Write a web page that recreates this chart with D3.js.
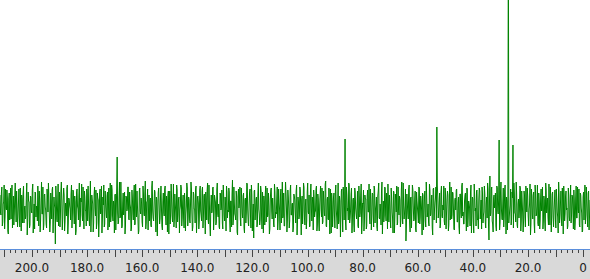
<!DOCTYPE html>
<html>
<head>
<meta charset="utf-8">
<script src="https://cdn.jsdelivr.net/npm/d3@7"></script>
<style>
  html, body { margin: 0; padding: 0; background: #fff; }
  svg { display: block; }
  .ticklabel { font-family: "DejaVu Sans", sans-serif; font-size: 12px; fill: #222; }
</style>
</head>
<body>
<div id="spectrum"></div>
<script>
// Spectrum sampling range (ppm), left to right
var ppmStart = 211.6, ppmEnd = -2.5;

// Baseline noise (arbitrary intensity units).
// Two sample sets, interleaved point by point.
var noiseA = [
  12,-8,20,-15,5,-22,18,-3,9,-27,14,2,-12,22,-6,-18,10,-1,16,-20,
  4,-11,19,-24,8,13,-16,1,-9,24,-14,6,-21,11,-4,17,-26,3,15,-10,
  -2,21,-19,7,-13,25,-7,-23,12,0,-17,18,-5,9,-25,14,-12,20,-8,2,
  -37,10,-15,23,-3,-20,16,6,-11,19,-24,4,-9,22,-16,8,-2,13,-21,17,
  -6,11,-28,15,1,-13,24,-18,5,-8,20,-22,10,-4,18,-14,3,-19,26,-10,
  7,-25,12,-1,17,-16,9,-30,14,-7,21,-12,2,-20,16,-5,11,-23,19,0,
  -15,22,-9,6,-26,13,-3,18,-17,8,-11,25,-21,4,-8,15,-19,10,-2,20,
  -13,3,-24,17,-6,12,-18,23,-10,1,-27,16,-4,9,-15,21,-7,14,-22,5,
  18,-3,-14,9,-20,26,-11,2,15,-25,7,-6,19,-17,11,-1,-23,14,-9,21,
  -18,6,12,-27,16,-5,8,-15,23,-12,3,-21,17,-8,10,-3,22,-19,5,-11,
  14,-24,1,19,-10,7,-16,25,-6,-20,13,-2,18,-26,9,4,-14,21,-9,16,
  -21,11,-5,15,-13,24,-17,2,-29,12,-4,20,-11,8,-18,17,-7,3,-22,13,
  0,-16,22,-8,10,-24,15,-3,19,-14,6,-20,27,-12,4,-9,16,-25,11,-1,
  20,-19,7,-11,14,-26,9,-6,23,-15,2,18,-21,12,-8,-31,17,-3,10,-17,
  24,-7,-13,16,-22,5,11,-18,21,-4,-10,14,-27,8,19,-12,1,-20,15,-5,
  9,-23,18,-2,12,-16,25,-9,-19,6,13,-25,17,-1,-14,22,-8,4,-21,11,
  -6,16,-28,10,-12,20,-3,7,-17,24,-11,1,-22,15,-5,12,-19,23,-14,3,
  17,-10,-4,21,-18,8,-24,13,-2,19,-15,6,-9,26,-20,10,-13,2,18,-26,
  5,-8,14,-21,22,-11,3,-17,11,-30,16,-6,20,-13,7,-23,12,-1,24,-16,
  -3,19,-12,9,-25,15,-7,1,-19,21,-10,13,-27,4,17,-14,8,-22,11,-5,
  23,-17,6,-9,13,-20,18,-2,10,-24,16,-11,3,-18,25,-6,-15,20,-8,14,
  -22,2,12,-13,19,-5,-26,15,-10,7,21,-16,-3,11,-20,17,-7,24,-12,1,
  -34,13,-6,18,-15,9,-21,22,-1,-12,16,-25,6,-8,20,-17,11,-4,14,-23,
  8,-14,25,-10,3,-19,17,-7,12,-28,19,-2,9,-16,22,-11,5,-21,15,-9,
  2,21,-18,11,-6,16,-24,4,-13,20,-8,14,-22,7,-3,18,-15,10,-27,13,
  -11,24,-5,-17,12,-9,19,-20,6,-1,15,-26,10,-14,23,-4,-19,17,-12,8,
  16,-2,-22,13,-8,21,-15,3,-11,18,-33,12,-6,20,-17,9,-1,14,-24,19,
  -7,11,-16,25,-12,5,-20,17,-4,10,-23,22,-9,2,-18,15,-13,24,-6,-15,
  13,-21,8,-3,19,-14,6,-25,16,-10,21,-5,11,-19,3,-28,18,-8,12,-17,
  22,-9,1,-16,14,-22,10,-4,20,-13,7,-24,17,-2,-11,23,-18,9,-7,15,
  -20,6,-12,18,-5,-26,13,-8,16,-19,4,21,-14,11,-3,-22,19,-10,7,-16,
  12,-4,17,-23,9,-11,20,-6,-18,14,-1,-25,10,-13,22,-8,5,-20,16,-9
];
var noiseB = [
  -5,14,-19,3,22,-10,-1,17,-24,8,-13,19,6,-21,11,-7,24,-15,2,-9,
  18,-20,-4,12,-16,21,-2,-12,9,-28,15,5,-18,10,-6,23,-11,-22,14,1,
  -14,8,16,-25,4,-7,20,-18,13,-3,-21,11,24,-9,-16,6,17,-26,10,-1,
  21,-12,3,-19,15,-8,25,-23,7,12,-15,-4,19,-27,9,1,-13,22,-6,16,
  -17,5,-24,18,-2,11,-20,9,23,-14,-7,16,-3,-19,13,21,-10,6,-25,12,
  3,-16,20,-9,-22,14,7,-13,18,-5,-26,10,22,-17,4,-11,15,-2,-20,24,
  -8,17,-14,2,12,-23,19,-6,-15,25,-10,1,-19,14,8,-27,11,-4,20,-12,
  15,-1,-21,9,-13,22,-17,5,16,-11,-24,19,-7,3,-20,13,-9,26,-16,6,
  -23,12,7,-18,20,-4,-14,17,-8,10,-29,14,2,-12,21,-19,5,-6,18,-10,
  11,-25,16,-3,-17,23,-9,4,-20,13,-5,22,-15,8,-26,1,19,-11,12,-21,
  6,-7,24,-19,10,-13,3,18,-24,15,-2,-16,21,-8,11,-22,17,-4,-14,20,
  -9,13,-27,8,16,-12,22,-18,1,-6,19,-23,12,5,-15,24,-10,-20,14,-3,
  17,-22,9,-14,2,21,-11,-5,15,-25,6,13,-18,20,-7,-13,10,-28,18,4,
  -12,19,-6,11,-21,7,-16,24,-3,-19,14,-9,22,-24,3,16,-13,8,-20,12,
  -2,-18,21,-10,15,-26,5,12,-15,19,-8,1,-22,17,-4,9,-17,23,-11,-7,
  20,-13,4,-23,18,-6,-11,14,-19,25,-2,-14,10,-21,16,-8,3,-25,13,7,
  -16,22,-12,5,-9,17,-28,11,-3,20,-18,8,-13,24,-7,-20,15,-1,10,-23,
  9,-5,18,-24,13,-15,2,21,-10,-17,16,-6,23,-19,7,-12,19,-27,5,14,
  -20,10,-8,15,-3,-22,24,-14,6,-9,18,-25,11,1,-16,20,-4,-13,22,-11,
  13,-26,7,-17,19,-1,-12,16,-21,9,-6,23,-15,3,-24,12,8,-19,17,-5,
  -10,18,-23,14,-7,21,-16,2,-20,11,24,-12,-4,15,-27,6,-9,19,-14,10,
  23,-15,1,-21,9,-11,16,-26,13,-5,-18,20,-8,7,-13,25,-17,3,-6,18,
  -19,4,-12,22,-25,10,-3,17,-14,8,-22,15,-1,-16,19,-10,6,-28,12,-8,
  16,-20,11,-6,-15,23,-9,2,-21,18,-13,5,20,-24,10,-4,14,-17,21,-11,
  -3,-14,19,-22,7,12,-18,25,-8,-12,15,-2,-23,9,17,-15,4,-20,13,-6,
  21,-9,-17,6,14,-24,18,-11,3,-19,22,-7,8,-26,11,-1,16,-13,-22,19,
  -12,7,20,-16,-5,13,-21,10,24,-18,2,-9,17,-14,-25,12,5,-19,21,-4,
  8,-23,15,-2,-13,19,-10,22,-27,6,11,-16,-3,18,-12,9,-21,14,-7,25,
  -18,3,-11,21,-24,16,-6,-14,12,-20,7,19,-9,-2,23,-17,10,-12,15,-26,
  14,-8,22,-19,5,-13,18,-3,-22,11,-15,24,-6,9,-18,2,20,-25,13,-10,
  -4,17,-21,8,-10,25,-16,4,-12,19,-27,13,-7,16,-1,-19,11,-14,22,-8,
  10,-22,6,-15,21,-11,-2,18,-20,12,-6,-24,15,3,-17,20,-9,14,-23,7
];

// Resonance peaks: position (ppm) and height
var peakPpm    = [169.1, 86.4, 53.0, 33.8, 30.5, 27.2, 25.4];
var peakHeight = [50,    68,   80,   31,   67,   300,  62];

// Axis ticks (ppm)
var labelTicks = [200, 180, 160, 140, 120, 100, 80, 60, 40, 20, 0];

var width = 590, height = 279, plotBottom = 249;

var svg = d3.select("#spectrum")
  .append("svg")
  .attr("width", width)
  .attr("height", height);

var x = d3.scaleLinear().domain([ppmStart, ppmEnd]).range([0, width]);
var y = d3.scaleLinear().domain([-42, 207]).range([plotBottom, 0]);

// Build signal: interleaved noise with peaks dropped in at the nearest sample
var values = [];
noiseA.forEach(function(v, i) { values.push(v, noiseB[i]); });
var step = (ppmEnd - ppmStart) / (values.length - 1);
var signal = values.map(function(v, i) { return {ppm: ppmStart + i * step, v: v}; });
peakPpm.forEach(function(p, k) {
  var i = Math.round((p - ppmStart) / step);
  signal[i].v = peakHeight[k];
});

svg.append("clipPath").attr("id", "plotclip")
  .append("rect").attr("x", 0).attr("y", 0).attr("width", width).attr("height", plotBottom);

svg.append("path")
  .datum(signal)
  .attr("clip-path", "url(#plotclip)")
  .attr("fill", "none")
  .attr("stroke", "#008300")
  .attr("stroke-width", 1)
  .attr("d", d3.line().x(function(d) { return x(d.ppm); }).y(function(d) { return y(d.v); }));

// Axis band
svg.append("rect")
  .attr("x", 0).attr("y", plotBottom).attr("width", width).attr("height", height - plotBottom)
  .attr("fill", "#d9d9d9");

svg.append("line")
  .attr("x1", 0).attr("x2", width).attr("y1", plotBottom + 0.5).attr("y2", plotBottom + 0.5)
  .attr("stroke", "#5b8fdc").attr("stroke-width", 1);

var minorTicks = d3.range(0, 212, 2);
svg.append("g").selectAll("line")
  .data(minorTicks)
  .enter()
  .append("line")
  .attr("x1", function(d) { return Math.round(x(d)) + 0.5; })
  .attr("x2", function(d) { return Math.round(x(d)) + 0.5; })
  .attr("y1", plotBottom + 1)
  .attr("y2", function(d) { return d % 10 === 0 ? plotBottom + 8 : plotBottom + 4; })
  .attr("stroke", "#444")
  .attr("stroke-width", 1);

svg.append("g").selectAll("text")
  .data(labelTicks)
  .enter()
  .append("text")
  .attr("class", "ticklabel")
  .attr("x", function(d) { return x(d); })
  .attr("y", 272)
  .attr("text-anchor", "middle")
  .text(function(d) { return d === 0 ? "0" : d.toFixed(1); });
</script>
</body>
</html>
